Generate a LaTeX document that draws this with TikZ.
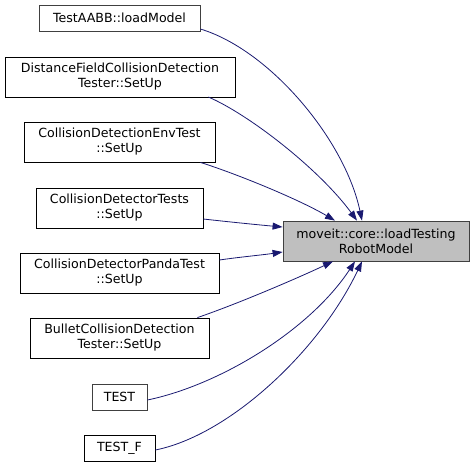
\documentclass[tikz,border=0pt]{standalone}
\usepackage{fontspec}
\setmainfont{DejaVu Sans}
\usetikzlibrary{arrows.meta}
\definecolor{edgeblue}{HTML}{191970}
\definecolor{boxgray}{HTML}{404040}
\tikzset{
  fn/.style={draw=black,line width=0.8pt,fill=white,inner sep=0pt,align=center,
    font=\fontsize{12.6}{15}\selectfont,minimum height=40pt},
  fnone/.style={fn,draw=boxgray,minimum height=26pt},
  callee/.style={fn,fill=black!25,draw=boxgray},
  call/.style={draw=edgeblue,line width=0.8pt,-{Triangle[length=10pt,width=7pt]},fill=none}
}
\begin{document}
\begin{tikzpicture}[x=1pt,y=-1pt]
\useasboundingbox (0,0) rectangle (475,467);
\node[callee,minimum width=186pt] (load) at (376,241) {moveit::core::loadTesting\\RobotModel};
\node[fnone,minimum width=161pt] (aabb) at (119.5,18) {TestAABB::loadModel};
\node[fn,minimum width=230pt] (dist) at (120,77) {DistanceFieldCollisionDetection\\Tester::SetUp};
\node[fn,minimum width=191pt] (env) at (119.5,142) {CollisionDetectionEnvTest\\::SetUp};
\node[fn,minimum width=167pt] (tests) at (119.5,208) {CollisionDetectorTests\\::SetUp};
\node[fn,minimum width=199pt] (panda) at (119.5,273) {CollisionDetectorPandaTest\\::SetUp};
\node[fn,minimum width=179pt] (bullet) at (119.5,338) {BulletCollisionDetection\\Tester::SetUp};
\node[fnone,minimum width=55pt] (test) at (119.5,397) {TEST};
\node[fn,minimum height=26pt,minimum width=71pt] (testf) at (119.5,448) {TEST\_F};
\draw[call] (aabb.east |- 0,29) .. controls (270,50) and (345,140) .. ([xshift=-14pt]load.north);
\draw[call] (dist.south east |- 0,97) ++(-27,0) .. controls (250,115) and (320,170) .. ([xshift=-19pt]load.north);
\draw[call] ([xshift=-15pt]env.south east) .. controls (240,175) and (300,200) .. ([xshift=-41pt]load.north);
\draw[call] ([yshift=-11pt]tests.east) .. controls (230,222) and (260,225) .. ([yshift=14pt]load.west);
\draw[call] ([yshift=13pt]panda.east) .. controls (240,257) and (262,255) .. ([yshift=-11pt]load.west);
\draw[call] ([xshift=-12pt]bullet.north east) .. controls (240,303) and (300,277) .. ([xshift=-43pt]load.south);
\draw[call] ([yshift=-3pt]test.east) .. controls (220,385) and (310,330) .. ([xshift=-21pt]load.south);
\draw[call] ([yshift=-2pt]testf.east) .. controls (230,435) and (320,350) .. ([xshift=-14pt]load.south);
\end{tikzpicture}
\end{document}
